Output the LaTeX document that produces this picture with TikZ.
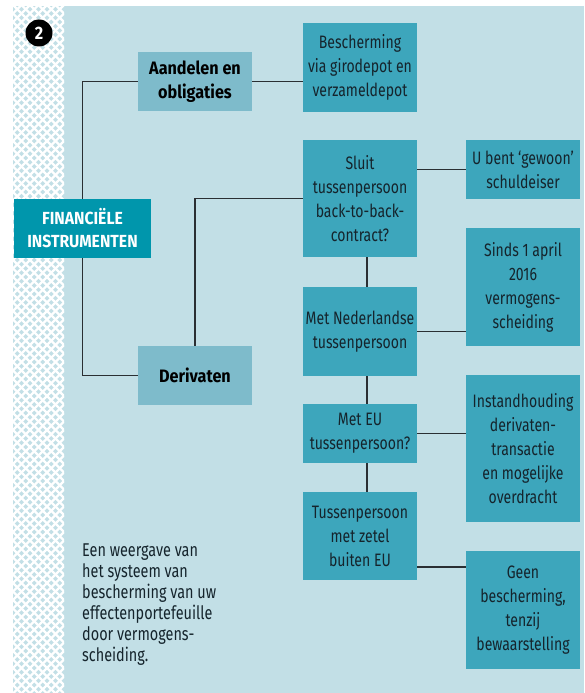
\documentclass[tikz,border=0pt]{standalone}
\usepackage{fontspec}
\setmainfont{Fira Sans}[FakeStretch=0.78,BoldFeatures={FakeStretch=0.9}]
\usetikzlibrary{positioning}
\definecolor{sky}{HTML}{C2DFE6}
\definecolor{pale}{HTML}{7EBBCB}
\definecolor{teal}{HTML}{3DA6BC}
\definecolor{deep}{HTML}{0096AC}
\definecolor{ink}{HTML}{15242C}
\definecolor{wire}{HTML}{2A2F33}

\begin{document}
\begin{tikzpicture}[x=1pt,y=-1pt,
 box/.style={draw=none,fill=teal,text=ink,inner sep=0pt,minimum width=114pt,align=center,font=\fontsize{18}{24}\selectfont},
 head/.style={box,fill=pale,text=black,minimum height=59pt,font=\fontsize{18}{24}\selectfont\bfseries},
 root/.style={box,fill=deep,text=white,minimum width=137pt,minimum height=59pt,font=\fontsize{17.5}{23}\selectfont\bfseries},
 link/.style={wire,line width=1.5pt},
 badge/.style={circle,fill=black,text=white,inner sep=0pt,minimum size=27pt,font=\fontsize{18}{18}\selectfont\bfseries}]
 \useasboundingbox (0,0) rectangle (584,693);
 \fill[white] (0,0) rectangle (584,693);
 \fill[sky] (13,6) rectangle (584,693);
 \begin{scope}
  \clip (13,6) rectangle (64,693);
  \foreach \i in {-80,-71.5,...,700} {
   \draw[white,line width=2.2pt] (13,\i) -- ++(60,60);
   \draw[white,line width=2.2pt] (64,\i) -- ++(-60,60);
  }
 \end{scope}
 \node[badge] (num) at (39,33) {2};
 \node[root] (fin) at (82.5,228.5) {FINANCIËLE\\INSTRUMENTEN};
 \node[head] (aand) at (195,81.5) {Aandelen en\\obligaties};
 \node[head] (deriv) at (195,375.5) {Derivaten};
 \node[box,minimum height=89pt] (besch) at (360,67.5) {Bescherming\\via girodepot en\\verzameldepot};
 \node[box,minimum height=117pt] (sluit) at (360,198.5) {Sluit\\tussenpersoon\\back-to-back-\\contract?};
 \node[box,minimum height=89pt] (ned) at (360,331.5) {Met Nederlandse\\tussenpersoon};
 \node[box,minimum height=59pt] (eu) at (360,433.5) {Met EU\\tussenpersoon?};
 \node[box,minimum height=88pt] (tuss) at (360,536) {Tussenpersoon\\met zetel\\buiten EU};
 \node[box,minimum height=59pt] (ubent) at (523,169.5) {U bent ‘gewoon’\\schuldeiser};
 \node[box,minimum height=118pt] (sinds) at (523,287) {Sinds 1 april\\2016\\vermogens-\\scheiding};
 \node[box,minimum height=147pt] (inst) at (523,448.5) {Instandhouding\\derivaten-\\transactie\\en mogelijke\\overdracht};
 \node[box,minimum height=118pt] (geen) at (523,610) {Geen\\bescherming,\\tenzij\\bewaarstelling};
 \node[anchor=north west,inner sep=0pt,align=left,text=ink,font=\fontsize{18.5}{21}\selectfont] (note) at (82,544)
  {Een weergave van\\het systeem van\\bescherming van uw\\effectenportefeuille\\door vermogens-\\scheiding.};
 \draw[link] (fin.north) |- (aand.west);
 \draw[link] (aand.east) -- (besch.west |- aand.east);
 \draw[link] (fin.south) |- (deriv.west);
 \draw[link] (deriv.north) |- (sluit.west);
 \draw[link] (sluit.east |- ubent.west) -- (ubent.west);
 \foreach \a/\b in {sluit/ned,ned/eu,eu/tuss}
  \draw[link] ([xshift=7pt]\a.south) -- ([xshift=7pt]\b.north);
 \draw[link] (ned.east) -- (ned.east -| sinds.west);
 \draw[link] (eu.east) -- (eu.east -| inst.west);
 \draw[link] ([yshift=-31pt]tuss.east) coordinate (t1) -- (t1 -| geen.west);
\end{tikzpicture}
\end{document}
